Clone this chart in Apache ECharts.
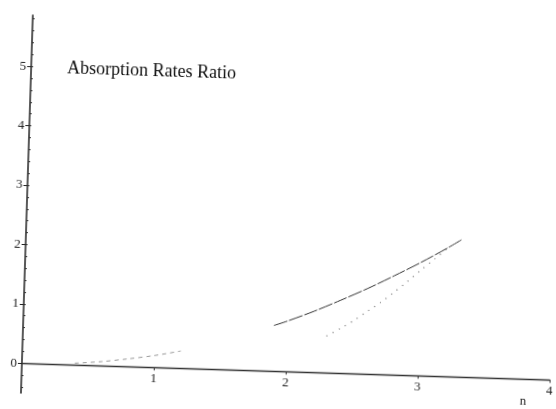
<!DOCTYPE html>
<html>
<head>
<meta charset="utf-8">
<script src="https://cdn.jsdelivr.net/npm/echarts@6/dist/echarts.min.js"></script>
<style>
  html, body { margin: 0; padding: 0; background: #fff; overflow: hidden; width: 556px; height: 409px; }
  #chart {
    position: absolute; left: 0; top: 0; width: 600px; height: 440px;
    transform-origin: 278px 204.5px; transform: rotate(1.8deg);
  }
</style>
</head>
<body>
<div id="chart"></div>
<script>
// Tick labels
const xTickValues = [1, 2, 3, 4];
const yTickValues = [0, 1, 2, 3, 4, 5];

// Upper curve (ratio, first branch)
const upperN     = [1.9, 2.0, 2.2, 2.4, 2.6, 2.8, 3.0, 3.2, 3.3];
const upperRatio = [0.77, 0.85, 1.03, 1.23, 1.44, 1.67, 1.91, 2.17, 2.31];

// Lower dotted curve (second branch)
const lowerN     = [2.3, 2.4, 2.5, 2.6, 2.7, 2.8, 2.9, 3.0, 3.1, 3.2];
const lowerRatio = [0.62, 0.75, 0.89, 1.05, 1.21, 1.39, 1.58, 1.78, 1.97, 2.17];

// Faint branch near the axis
const lowN     = [0.4, 0.6, 0.8, 1.0, 1.2];
const lowRatio = [0.03, 0.07, 0.13, 0.2, 0.29];

const pairs = (xs, ys) => xs.map((x, i) => [x, ys[i]]);

// small ticks on the vertical axis every 0.2
const minorTicks = [];
for (let v = -0.4; v <= 5.81; v += 0.2) minorTicks.push(Math.round(v * 10) / 10);

const serif = '"Liberation Serif", "DejaVu Serif", serif';
const Y_MIN = -0.5, Y_MAX = 5.86;
const GRID_H = 378;
// lift the horizontal axis from the grid bottom up to ratio = 0
const xAxisLift = -GRID_H * (0 - Y_MIN) / (Y_MAX - Y_MIN);

const chart = echarts.init(document.getElementById('chart'), null, { renderer: 'canvas' });
chart.setOption({
  animation: false,
  backgroundColor: '#ffffff',
  title: {
    text: 'Absorption Rates Ratio',
    left: 63, top: 66, padding: 0,
    textStyle: { fontFamily: serif, fontSize: 18, fontWeight: 'normal', color: '#111' }
  },
  grid: { left: 27, top: 23, width: 528, height: GRID_H },
  xAxis: {
    type: 'value', min: 0, max: 4, position: 'bottom', offset: xAxisLift,
    axisLine: { show: true, onZero: false, lineStyle: { color: '#333', width: 1.3 } },
    axisTick: { show: true, customValues: xTickValues, length: 3, lineStyle: { color: '#333' } },
    axisLabel: { customValues: xTickValues, margin: 5, fontFamily: serif, fontSize: 13, color: '#222' },
    splitLine: { show: false }
  },
  yAxis: [
    {
      type: 'value', min: Y_MIN, max: Y_MAX,
      axisLine: { show: true, onZero: false, lineStyle: { color: '#222', width: 1.5 } },
      axisTick: { show: true, customValues: yTickValues, length: 4, lineStyle: { color: '#222' } },
      axisLabel: { customValues: yTickValues, margin: 5, fontFamily: serif, fontSize: 13, color: '#222' },
      splitLine: { show: false }
    },
    {
      type: 'value', min: Y_MIN, max: Y_MAX, position: 'left',
      axisLine: { show: false, onZero: false },
      axisTick: { show: true, customValues: minorTicks, length: 2, inside: true, lineStyle: { color: '#333' } },
      axisLabel: { show: false },
      splitLine: { show: false }
    }
  ],
  graphic: [{
    type: 'text', x: 529, y: 394,
    style: { text: 'n', fontFamily: serif, fontSize: 13, fill: '#222', align: 'center', verticalAlign: 'middle' }
  }],
  series: [
    {
      type: 'line', data: pairs(upperN, upperRatio), showSymbol: false, smooth: 0.3,
      lineStyle: { color: '#333', width: 1, type: [14, 2] }
    },
    {
      type: 'line', data: pairs(lowerN, lowerRatio), showSymbol: false, smooth: 0.3,
      lineStyle: { color: '#666', width: 1.2, type: [1, 6] }
    },
    {
      type: 'line', data: pairs(lowN, lowRatio), showSymbol: false, smooth: 0.3,
      lineStyle: { color: '#999', width: 1, type: [4, 4] }
    }
  ]
});
</script>
</body>
</html>
